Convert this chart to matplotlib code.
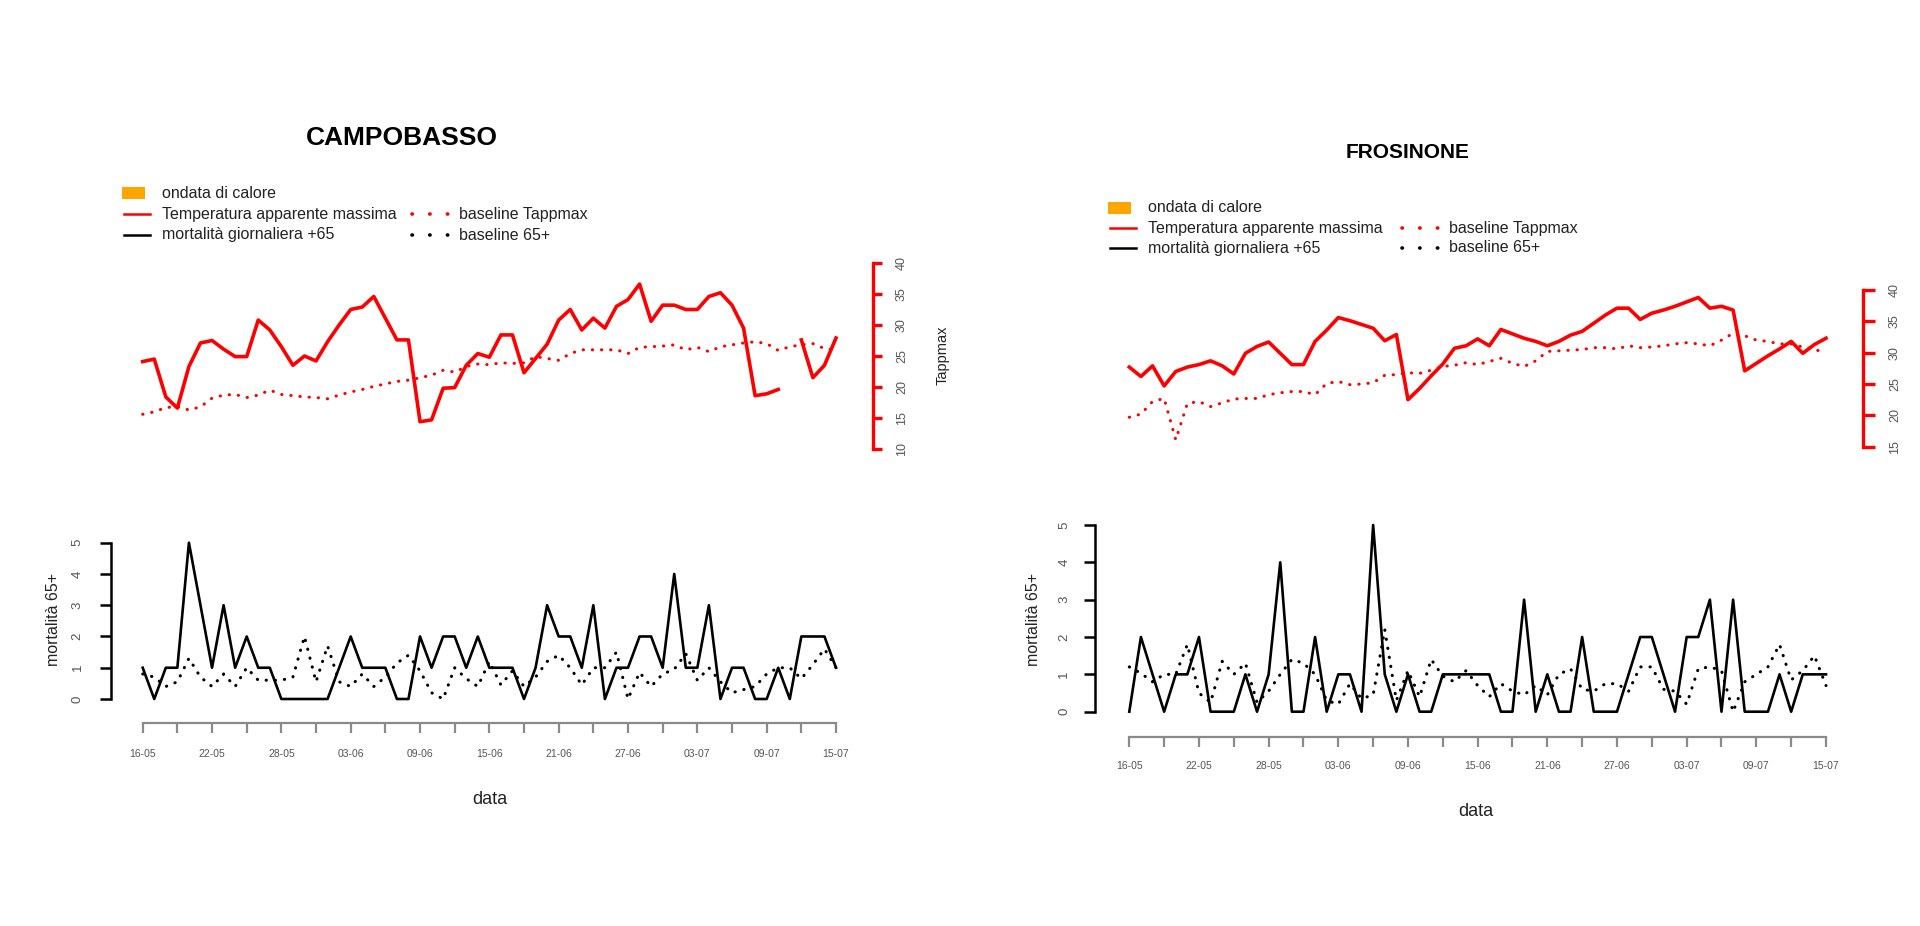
import numpy as np
import matplotlib
matplotlib.use("Agg")
import matplotlib.pyplot as plt
from matplotlib.lines import Line2D
from matplotlib.patches import Rectangle

plt.rcParams["font.family"] = ["Liberation Sans", "DejaVu Sans"]

W, H = 1920, 926
ROSSO, ARANCIO, GRIGIO = "#FF0000", "#FFA500", "#555555"

# --- dati (16-05 .. 15-07, un valore al giorno) ---
giorni = np.arange(61)
tick_lab = ["16-05", "22-05", "28-05", "03-06", "09-06", "15-06",
            "21-06", "27-06", "03-07", "09-07", "15-07"]

cb_tapp = [24.1, 24.5, 18.4, 16.6, 23.3, 27.1, 27.5, 26.1, 24.9, 24.9, 30.8, 29.2, 26.5, 23.5, 25.0, 24.2,
           27.3, 30.0, 32.5, 32.9, 34.6, 31.1, 27.6, 27.6, 14.4, 14.7, 19.8, 19.9, 23.5, 25.4, 24.8, 28.4,
           28.4, 22.3, 24.6, 26.9, 30.8, 32.5, 29.2, 31.1, 29.5, 33.0, 34.1, 36.6, 30.6, 33.2, 33.2, 32.5,
           32.5, 34.6, 35.2, 33.2, 29.5, 18.6, 18.9, 19.6, np.nan, 27.6, 21.5, 23.5, 27.9]
cb_tapp_base = [15.6, 16.0, 16.7, 16.8, 16.3, 16.8, 18.2, 18.7, 18.8, 18.3, 18.7, 19.5, 18.8, 18.6, 18.4, 18.3,
                18.1, 18.7, 19.2, 19.6, 20.1, 20.5, 20.9, 21.1, 21.5, 21.9, 22.7, 22.4, 23.3, 23.7, 23.6, 23.9,
                23.8, 23.9, 24.9, 24.6, 24.3, 25.4, 26.0, 26.0, 26.0, 26.0, 25.4, 26.4, 26.5, 26.6, 26.8, 26.0,
                26.4, 25.7, 26.5, 26.8, 27.1, 27.3, 27.0, 25.9, 26.5, 26.8, 27.0, 26.2, 26.0]
cb_mort = [1, 0, 1, 1, 5, 3, 1, 3, 1, 2, 1, 1, 0, 0, 0, 0, 0, 1, 2, 1, 1, 1, 0, 0, 2, 1, 2, 2, 1, 2, 1,
           1, 1, 0, 1, 3, 2, 2, 1, 3, 0, 1, 1, 2, 2, 1, 4, 1, 1, 3, 0, 1, 1, 0, 0, 1, 0, 2, 2, 2, 1]
cb_mort_base = [0.8, 0.7, 0.4, 0.55, 1.3, 0.7, 0.4, 0.8, 0.4, 1.0, 0.6, 0.6, 0.6, 0.7, 2.0, 0.55,
                1.7, 0.55, 0.4, 0.8, 0.4, 0.7, 1.15, 1.4, 0.9, 0.2, 0.0, 1.0, 0.65, 0.4, 1.2, 0.45,
                0.9, 0.4, 0.7, 1.2, 1.4, 1.0, 0.45, 1.0, 1.0, 1.5, 0.0, 0.85, 0.4, 0.8, 0.95, 1.45,
                0.6, 1.0, 0.55, 0.2, 0.3, 0.4, 0.8, 1.0, 1.0, 0.65, 1.1, 1.6, 1.0]

fr_tapp = [27.7, 26.2, 27.9, 24.7, 27.0, 27.7, 28.1, 28.7, 27.9, 26.6, 29.9, 31.0, 31.7, 29.9, 28.1, 28.1,
           31.8, 33.6, 35.6, 35.1, 34.5, 33.9, 31.9, 32.9, 22.5, 24.3, 26.3, 28.2, 30.7, 31.1, 32.2, 31.1,
           33.7, 33.0, 32.3, 31.8, 31.1, 31.8, 32.8, 33.4, 34.7, 36.0, 37.1, 37.1, 35.3, 36.3, 36.8, 37.4,
           38.1, 38.8, 37.1, 37.4, 36.8, 27.1, 28.3, 29.5, 30.6, 31.8, 29.9, 31.3, 32.3]
fr_tapp_base = [19.7, 20.2, 22.2, 22.7, 16.1, 21.9, 22.2, 21.4, 22.0, 22.6, 22.7, 22.7, 23.3, 23.6, 23.8, 23.8,
                23.3, 25.1, 25.4, 24.9, 25.0, 25.2, 26.4, 26.5, 26.8, 26.7, 27.2, 27.8, 28.0, 28.4, 28.1, 28.6,
                29.1, 28.3, 27.8, 28.7, 30.2, 30.3, 30.4, 30.5, 30.8, 30.8, 30.6, 31.1, 30.8, 30.9, 31.1, 31.4,
                31.6, 31.4, 31.1, 32.0, 33.1, 32.7, 32.0, 31.8, 31.4, 31.4, 30.9, 30.6, 29.8]
fr_mort = [0, 2, 1, 0, 1, 1, 2, 0, 0, 0, 1, 0, 1, 4, 0, 0, 2, 0, 1, 1, 0, 5, 1, 0, 1, 0, 0, 1, 1, 1, 1,
           1, 0, 0, 3, 0, 1, 0, 0, 2, 0, 0, 0, 1, 2, 2, 1, 0, 2, 2, 3, 0, 3, 0, 0, 0, 1, 0, 1, 1, 1]
fr_mort_base = [1.2, 1.03, 0.8, 1.0, 1.0, 1.8, 0.5, 0.25, 1.35, 1.0, 1.3, 0.25, 0.55, 1.0, 1.4, 1.3,
                1.0, 0.3, 0.2, 0.75, 0.35, 0.45, 2.2, 0.3, 1.1, 0.4, 1.4, 0.95, 0.8, 1.1, 0.7, 0.4,
                0.75, 0.55, 0.45, 0.7, 0.45, 1.0, 1.15, 0.6, 0.55, 0.75, 0.75, 0.55, 1.2, 1.2, 0.6, 0.55,
                0.2, 1.15, 1.2, 1.1, 0.0, 0.8, 1.0, 1.2, 1.8, 0.85, 1.1, 1.5, 0.7]

PUNTI = (0, (0.1, 2.9))


def px(v):  # pixel -> punti tipografici (dpi 100)
    return v * 72 / 100


def rect(x0, x1, ytop, ybot):
    return [x0 / W, 1 - ybot / H, (x1 - x0) / W, (ybot - ytop) / H]


def legenda(fig, x0, y0, dy, xc2, fs):
    fy = lambda y: 1 - y / H
    fig.add_artist(Rectangle((x0 / W, fy(y0 + 6)), 23 / W, 12 / H, transform=fig.transFigure,
                             color=ARANCIO, lw=0))
    righe = [(y0 + dy, ROSSO, "Temperatura apparente massima", "baseline Tappmax"),
             (y0 + 2 * dy, "black", "mortalità giornaliera +65", "baseline 65+")]
    fig.text((x0 + 40) / W, fy(y0), "ondata di calore", fontsize=fs, va="center", color="#222222")
    for y, col, t1, t2 in righe:
        fig.add_artist(Line2D([(x0 + 2) / W, (x0 + 28) / W], [fy(y), fy(y)], transform=fig.transFigure,
                              color=col, lw=1.8))
        fig.text((x0 + 40) / W, fy(y), t1, fontsize=fs, va="center", color="#222222")
        fig.add_artist(Line2D([(xc2 + 2) / W, (xc2 + 38) / W], [fy(y), fy(y)], transform=fig.transFigure,
                              color=col, lw=2.6, ls=(0, (0.1, 4.8)), dash_capstyle="round"))
        fig.text((xc2 + 49) / W, fy(y), t2, fontsize=fs, va="center", color="#222222")


def pannello(fig, c):
    # temperatura
    at = fig.add_axes(rect(c["x0"], c["x1"], c["t_top"], c["t_bot"]))
    at.plot(giorni, c["tapp"], color=ROSSO, lw=2.6, clip_on=False)
    at.plot(giorni, c["tapp_base"], color=ROSSO, lw=2.2, ls=PUNTI, dash_capstyle="round", clip_on=False)
    at.set_xlim(0, 60); at.set_ylim(c["t_min"], 40)
    for s in ["left", "top", "bottom"]:
        at.spines[s].set_visible(False)
    at.spines["right"].set_position(("outward", px(c["t_off"])))
    at.spines["right"].set_bounds(c["t_min"], 40)
    at.spines["right"].set_color(ROSSO); at.spines["right"].set_linewidth(2.4)
    at.set_xticks([])
    at.yaxis.tick_right()
    at.set_yticks(np.arange(c["t_min"], 41, 5))
    at.tick_params(axis="y", colors=ROSSO, width=2.4, length=px(c["t_tick"]), labelcolor=GRIGIO,
                   labelsize=9, labelrotation=90, pad=px(14))
    for lab in at.get_yticklabels():
        lab.set_va("center")
    if c["tlabel"]:
        fig.text(c["tlabel_x"] / W, 1 - 355 / H, "Tappmax", rotation=90, fontsize=10.5,
                 ha="center", va="center", color="#222222")

    # mortalità
    am = fig.add_axes(rect(c["x0"], c["x1"], c["m_top"], c["m_bot"]))
    am.plot(giorni, c["mort"], color="black", lw=1.9, clip_on=False)
    am.plot(giorni, c["mort_base"], color="black", lw=2.2, ls=PUNTI, dash_capstyle="round", clip_on=False)
    am.set_xlim(0, 60); am.set_ylim(0, 5)
    for s in ["top", "right"]:
        am.spines[s].set_visible(False)
    am.spines["left"].set_position(("outward", px(c["m_off_l"])))
    am.spines["left"].set_bounds(0, 5); am.spines["left"].set_linewidth(1.8)
    am.spines["bottom"].set_position(("outward", px(c["m_off_b"])))
    am.spines["bottom"].set_bounds(0, 60)
    am.spines["bottom"].set_color("#8a8a8a"); am.spines["bottom"].set_linewidth(1.6)
    am.set_yticks(range(6))
    am.tick_params(axis="y", width=1.8, length=px(11), labelcolor=GRIGIO, labelsize=9.5,
                   labelrotation=90, pad=px(c["m_pad_l"]))
    for lab in am.get_yticklabels():
        lab.set_va("center")
    am.set_xticks(range(0, 61, 6))
    am.set_xticklabels(tick_lab)
    am.set_xticks(range(3, 61, 6), minor=True)
    am.tick_params(axis="x", which="both", color="#8a8a8a", width=1.6, length=px(10),
                   labelcolor=GRIGIO, labelsize=7.5, pad=px(c["m_pad_b"]))
    fig.text(c["ylab_x"] / W, 1 - c["ylab_y"] / H, "mortalità 65+", rotation=90, fontsize=11.5,
             ha="center", va="center", color="#222222")
    fig.text(c["data_x"] / W, 1 - c["data_y"] / H, "data", fontsize=13, ha="center", va="center",
             color="#222222")
    fig.text(c["tit_x"] / W, 1 - c["tit_y"] / H, c["titolo"], fontsize=c["tit_fs"], fontweight="bold",
             ha="center", va="center")
    legenda(fig, *c["leg"])


campobasso = dict(titolo="CAMPOBASSO", tit_x=402, tit_y=138, tit_fs=19,
                  tapp=cb_tapp, tapp_base=cb_tapp_base, mort=cb_mort, mort_base=cb_mort_base,
                  x0=142.7, x1=836, t_top=263, t_bot=449, t_min=10, t_off=37, t_tick=9,
                  tlabel=True, tlabel_x=943,
                  m_top=542.7, m_bot=699, m_off_l=32, m_off_b=24, m_pad_l=16, m_pad_b=16,
                  ylab_x=54, ylab_y=620, data_x=490, data_y=800,
                  leg=(122, 193, 21, 410, 11.5))
frosinone = dict(titolo="FROSINONE", tit_x=1408, tit_y=153, tit_fs=15,
                 tapp=fr_tapp, tapp_base=fr_tapp_base, mort=fr_mort, mort_base=fr_mort_base,
                 x0=1129.3, x1=1826, t_top=290, t_bot=446.7, t_min=15, t_off=37, t_tick=12,
                 tlabel=False, tlabel_x=0,
                 m_top=525, m_bot=711.7, m_off_l=34, m_off_b=25, m_pad_l=14, m_pad_b=14,
                 ylab_x=1034, ylab_y=620, data_x=1476, data_y=812,
                 leg=(1108, 208, 20, 1400, 11.5))

fig = plt.figure(figsize=(W / 100, H / 100), dpi=100)
pannello(fig, campobasso)
pannello(fig, frosinone)
fig.savefig("out.png", dpi=100)
